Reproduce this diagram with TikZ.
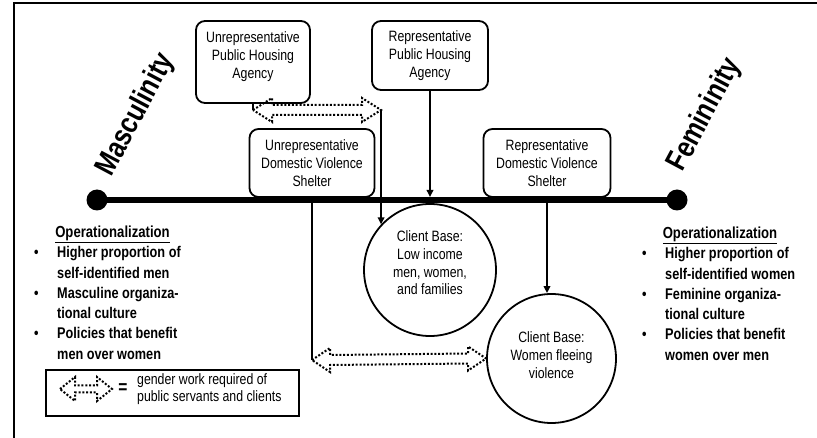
\documentclass[tikz,border=0pt]{standalone}
\usepackage{fontspec}
\setmainfont{Liberation Sans}[FakeStretch=0.82]
\usetikzlibrary{arrows.meta,calc}
\newcommand\gwarrow[5]{%
  \draw[gwork] (#1) -- ($(#1)+(#3,-#4)$) -- ($(#1)+(#3,-#5)$) -- ($(#2)+(-#3,-#5)$)
    -- ($(#2)+(-#3,-#4)$) -- (#2) -- ($(#2)+(-#3,#4)$) -- ($(#2)+(-#3,#5)$)
    -- ($(#1)+(#3,#5)$) -- ($(#1)+(#3,#4)$) -- cycle;}
\begin{document}
\begin{tikzpicture}[x=1pt,y=-1pt,
  rbox/.style={draw, line width=1.8pt, rounded corners=9pt, inner sep=0pt, align=center,
               font=\fontsize{15}{17.7}\selectfont},
  txt/.style={font=\fontsize{15}{17.7}\selectfont, align=center, inner sep=0pt},
  client/.style={draw, circle, line width=1.8pt, inner sep=0pt},
  conn/.style={line width=1.8pt},
  arr/.style={conn, -{Triangle[length=7pt,width=6.5pt]}},
  gwork/.style={line width=2pt, dash pattern=on 2pt off 1.8pt},
  ophead/.style={font=\fontsize{16}{18}\selectfont\bfseries, inner sep=0pt},
  oplist/.style={font=\fontsize{15.5}{20.3}\selectfont\bfseries, align=left, inner sep=0pt, anchor=north west},
  pole/.style={font=\fontsize{30}{32}\selectfont\bfseries, rotate=62, inner sep=0pt},
  enddot/.style={circle, fill, inner sep=0pt, minimum size=21pt}]
\useasboundingbox (0,0) rectangle (817,438);
% frame
\draw[line width=1.5pt] (14,438) -- (14,3) -- (817,3);
% axis
\node[enddot] (mdot) at (97,200) {};
\node[enddot] (fdot) at (677,200) {};
\draw[line width=6pt] (mdot.center) -- (fdot.center);
% poles
\node[pole] (masc) at (136,115) {Masculinity};
\node[pole] (fem) at (705,115) {Femininity};
% boxes
\node[rbox, minimum width=114pt, minimum height=82pt] (uph) at (253,62) {};
\node[txt] (uphT) at (253,56.5) {Unrepresentative\\Public Housing\\Agency};
\node[rbox, minimum width=116pt, minimum height=69pt] (rph) at (430,55.5) {Representative\\Public Housing\\Agency};
\node[rbox, minimum width=125pt, minimum height=68pt] (udv) at (312,163) {Unrepresentative\\Domestic Violence\\Shelter};
\node[rbox, minimum width=127pt, minimum height=68pt] (rdv) at (547,163) {Representative\\Domestic Violence\\Shelter};
% clients
\node[client, minimum size=132pt] (cl1) at (430,270) {};
\node[txt] (cl1T) at (430,263) {Client Base:\\Low income\\men, women,\\and families};
\node[client, minimum size=129pt] (cl2) at (551.5,358.5) {};
\node[txt] (cl2T) at (551.5,355) {Client Base:\\Women fleeing\\violence};
% connectors
\coordinate (g1) at (253,110);
\coordinate (g2) at (381,110);
\draw[conn] (uph.south) -- (g1);
\gwarrow{g1}{g2}{19}{12}{5}
\draw[arr] (g2) -- (cl1.137);
\coordinate (ax1) at (430,197);
\draw[arr] (rph.south) -- (ax1);
\coordinate (g3) at (312,360);
\draw[conn] (udv.south) -- (g3);
\gwarrow{g3}{cl2.west}{18}{12}{5}
\draw[arr] (rdv.south) -- (rdv.south |- cl2.north);
% operationalization
\node[ophead, anchor=base] (mhead) at (112.5,237.5) {\underline{Operationalization}};
\node[oplist] (mlist) at (34,246.3) {\makebox[23pt][l]{•}Higher proportion of\\\hspace*{23pt}self-identified men\\
  \makebox[23pt][l]{•}Masculine organiza-\\\hspace*{23pt}tional culture\\
  \makebox[23pt][l]{•}Policies that benefit\\\hspace*{23pt}men over women};
\node[ophead, anchor=base] (fhead) at (720,238.5) {\underline{Operationalization}};
\node[oplist] (flist) at (642,247.3) {\makebox[23pt][l]{•}Higher proportion of\\\hspace*{23pt}self-identified women\\
  \makebox[23pt][l]{•}Feminine organiza-\\\hspace*{23pt}tional culture\\
  \makebox[23pt][l]{•}Policies that benefit\\\hspace*{23pt}women over men};
% legend
\node[draw, line width=2pt, minimum width=253pt, minimum height=45pt, inner sep=0pt] (legend) at (172.5,393) {};
\coordinate (l1) at (60,389);
\coordinate (l2) at (112,389);
\gwarrow{l1}{l2}{15}{12}{3.5}
\node[font=\fontsize{19}{19}\selectfont\bfseries, inner sep=0pt] (eq) at (123,389) {=};
\node[txt, align=left, anchor=west] (legT) at (137,389) {gender work required of\\public servants and clients};
\end{tikzpicture}
\end{document}
